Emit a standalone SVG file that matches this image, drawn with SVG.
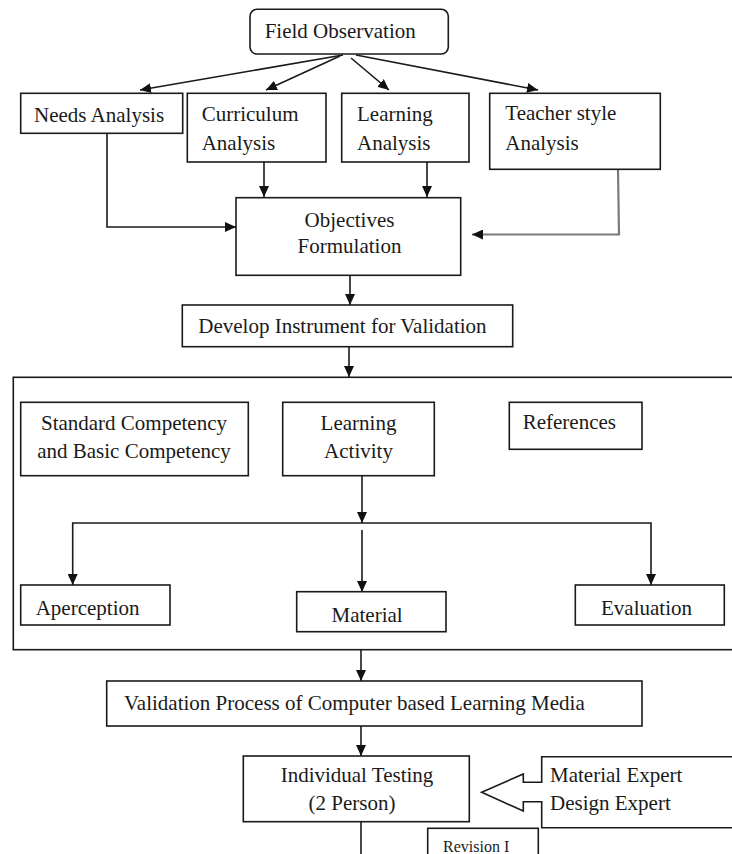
<svg xmlns="http://www.w3.org/2000/svg" width="732" height="854" viewBox="0 0 732 854">
<defs>
<marker id="ah" markerUnits="userSpaceOnUse" markerWidth="12" markerHeight="10" refX="11" refY="5" orient="auto">
<path d="M0,0 L11,5 L0,10 Z" fill="#111"/>
</marker>
<style>
.box{fill:#fff;stroke:#1a1a1a;stroke-width:1.6}
.frame{fill:none;stroke:#1a1a1a;stroke-width:1.6}
.t{font-family:"Liberation Serif","Times New Roman",serif;font-size:21px;fill:#1a1a1a}
.m{text-anchor:middle}
.c{fill:none;stroke:#1a1a1a;stroke-width:1.6}
.a{marker-end:url(#ah)}
.g{fill:none;stroke:#7a7a7a;stroke-width:2.2;marker-end:url(#ah)}
</style>
</defs>
<rect width="732" height="854" fill="#fff"/>

<g id="container">
<rect class="frame" x="13.3" y="377.3" width="740" height="272.4"/>
</g>

<g id="connectors">
<line class="c a" x1="343" y1="55" x2="140" y2="90"/>
<line class="c a" x1="340" y1="56" x2="266" y2="90"/>
<line class="c a" x1="351" y1="58" x2="389" y2="90"/>
<line class="c a" x1="356" y1="55" x2="538" y2="90"/>
<polyline class="c a" points="107,133 107,227 236,227"/>
<line class="c a" x1="264" y1="162" x2="264" y2="197"/>
<line class="c a" x1="427" y1="162" x2="427" y2="197"/>
<polyline class="g" points="618,169 619,234.5 472,234.5"/>
<line class="c a" x1="350" y1="275" x2="350" y2="305"/>
<line class="c a" x1="349" y1="347" x2="349" y2="377"/>
<line class="c a" x1="362" y1="476" x2="362" y2="523"/>
<polyline class="c a" points="362,523 72.7,523 72.7,585"/>
<polyline class="c a" points="362,523 651,523 651,585"/>
<line class="c a" x1="362" y1="530" x2="362" y2="592"/>
<line class="c a" x1="361" y1="650" x2="361" y2="681"/>
<line class="c a" x1="361" y1="726" x2="361" y2="756"/>
<line class="c" x1="361" y1="822" x2="361" y2="860"/>
</g>

<g id="field-observation">
<rect class="box" x="250" y="9.3" width="198.3" height="44.7" rx="7"/>
<text class="t" x="264.7" y="38.3">Field Observation</text>
</g>
<g id="needs-analysis">
<rect class="box" x="20.7" y="93.3" width="162" height="40"/>
<text class="t" x="34" y="121.7">Needs Analysis</text>
</g>
<g id="curriculum-analysis">
<rect class="box" x="187.3" y="93.3" width="138.7" height="68.7"/>
<text class="t" x="201.7" y="120.7">Curriculum</text>
<text class="t" x="201.7" y="150">Analysis</text>
</g>
<g id="learning-analysis">
<rect class="box" x="341.7" y="93.3" width="127.3" height="68.7"/>
<text class="t" x="357" y="121">Learning</text>
<text class="t" x="357" y="150">Analysis</text>
</g>
<g id="teacher-style-analysis">
<rect class="box" x="489.7" y="93.3" width="170.6" height="76"/>
<text class="t" x="505.3" y="120">Teacher style</text>
<text class="t" x="505.3" y="150">Analysis</text>
</g>
<g id="objectives-formulation">
<rect class="box" x="236" y="197.7" width="224.7" height="77.6"/>
<text class="t m" x="349.5" y="226.7">Objectives</text>
<text class="t m" x="349.5" y="253">Formulation</text>
</g>
<g id="develop-instrument">
<rect class="box" x="182.3" y="305" width="330.4" height="41.7"/>
<text class="t" x="198.3" y="333.3">Develop Instrument for Validation</text>
</g>
<g id="standard-competency">
<rect class="box" x="20.7" y="402.3" width="227.6" height="73.4"/>
<text class="t m" x="134" y="430">Standard Competency</text>
<text class="t m" x="134" y="458.3">and Basic Competency</text>
</g>
<g id="learning-activity">
<rect class="box" x="282.7" y="402.3" width="151.6" height="73.4"/>
<text class="t m" x="358.5" y="430">Learning</text>
<text class="t m" x="358.5" y="458.3">Activity</text>
</g>
<g id="references">
<rect class="box" x="509.3" y="402.3" width="132.7" height="47"/>
<text class="t" x="522.7" y="429.3">References</text>
</g>
<g id="aperception">
<rect class="box" x="20.7" y="585" width="149.3" height="40"/>
<text class="t" x="35.7" y="615">Aperception</text>
</g>
<g id="material">
<rect class="box" x="296.7" y="591.7" width="149.3" height="40"/>
<text class="t" x="331.5" y="622">Material</text>
</g>
<g id="evaluation">
<rect class="box" x="575.3" y="585" width="149" height="40"/>
<text class="t" x="601" y="615">Evaluation</text>
</g>
<g id="validation-process">
<rect class="box" x="106.7" y="681" width="535.3" height="45"/>
<text class="t" x="124" y="710">Validation Process of Computer based Learning Media</text>
</g>
<g id="individual-testing">
<rect class="box" x="243.3" y="756" width="226" height="65.7"/>
<text class="t m" x="357" y="781.7">Individual Testing</text>
<text class="t m" x="352" y="810">(2 Person)</text>
</g>
<g id="experts">
<path class="box" d="M541.7,756.7 L745,756.7 L745,827.7 L541.7,827.7 L541.7,801.7 L523.3,801.7 L523.3,811 L481.7,792.3 L523.3,774 L523.3,782.3 L541.7,782.3 Z"/>
<text class="t" x="550" y="781.7">Material Expert</text>
<text class="t" x="550" y="810">Design Expert</text>
</g>
<g id="revision-1">
<rect class="box" x="427.7" y="828.3" width="110.6" height="40"/>
<text class="t" x="443" y="852" style="font-size:16px">Revision I</text>
</g>
</svg>
